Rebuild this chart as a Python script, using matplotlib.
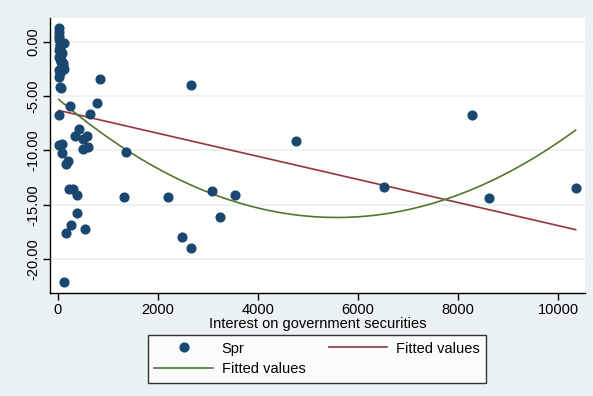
import numpy as np
import matplotlib
matplotlib.use("Agg")
import matplotlib.pyplot as plt

# interest on government securities vs. Spr
interest = [26, 20, 20, 126, 30, 40, 25, 50, 30, 60, 100, 110, 20, 70, 26, 60, 40,
            15, 45, 35, 80, 20, 55, 90, 35, 45, 65,
            840, 773, 240, 640, 26, 427, 340, 573, 493, 493, 607, 27, 87, 87, 1360,
            193, 160, 227, 307, 387, 1320, 387, 253, 160, 540, 120,
            2653, 2207, 3087, 3547, 3233, 2487, 2667, 4760, 6527, 8287, 8627, 10353]
spr = [1.23, 0.92, 0.22, -0.09, 0.0, -0.4, -0.8, -1.2, -1.6, -1.9, -2.0, -2.5, -2.6, -2.3, -3.2, -4.3, -4.15,
       0.5, -0.3, -0.7, -1.0, -1.4, -1.8, -2.2, -2.6, -2.9, -2.5,
       -3.43, -5.66, -5.9, -6.68, -6.74, -8.05, -8.67, -8.67, -8.92, -9.86, -9.65, -9.49, -9.43, -10.2, -10.17,
       -10.96, -11.24, -13.54, -13.54, -14.06, -14.27, -15.71, -16.88, -17.61, -17.24, -22.1,
       -4.01, -14.25, -13.75, -14.09, -16.08, -17.98, -18.99, -9.16, -13.36, -6.74, -14.39, -13.48]

xticks = [0, 2000, 4000, 6000, 8000, 10000]
yticks = [0, -5, -10, -15, -20]

navy = "#1A476F"
maroon = "#90353B"
green = "#55752F"
bg = "#EAF2F3"

x = np.array(interest, dtype=float)
y = np.array(spr, dtype=float)

# linear and quadratic fits over the range of x
xs = np.linspace(x.min(), x.max(), 200)
lin = np.polyval(np.polyfit(x, y, 1), xs)
quad = np.polyval(np.polyfit(x, y, 2), xs)

plt.rcParams["font.family"] = ["Liberation Sans", "DejaVu Sans"]

fig = plt.figure(figsize=(5.93, 3.96), dpi=100, facecolor=bg)
ax = fig.add_axes([50/593, 1 - 293/396, 535/593, 275/396])
ax.set_facecolor("white")

for t in yticks:
    ax.axhline(t, color=bg, lw=1.3, zorder=0)

pts, = ax.plot(x, y, "o", color=navy, ms=6.3, mec=navy, ls="none", label="Spr", zorder=3)
l1, = ax.plot(xs, lin, color=maroon, lw=1.2, label="Fitted values", zorder=2)
l2, = ax.plot(xs, quad, color=green, lw=1.2, label="Fitted values", zorder=2)

ax.set_xlim(-160, 10540)
ax.set_ylim(-23.1, 2.18)
ax.set_xticks(xticks)
ax.set_xticklabels([str(t) for t in xticks])
ax.set_yticks(yticks)
ax.set_yticklabels(["%.2f" % t for t in yticks], rotation=90, va="center")
ax.tick_params(labelsize=10.5, length=5, width=1, color="black", pad=2)

for s in ["top", "right"]:
    ax.spines[s].set_visible(False)
for s in ["left", "bottom"]:
    ax.spines[s].set_linewidth(1)

ax.set_xlabel("Interest on government securities", fontsize=10.5, labelpad=0)

leg = fig.legend([pts, l2, l1], ["Spr", "Fitted values", "Fitted values"],
                 ncol=2, loc="upper center", bbox_to_anchor=(317/593, 1 - 335/396),
                 fontsize=10.5, frameon=True, fancybox=False, edgecolor="black",
                 handlelength=4.0, handletextpad=0.6, columnspacing=1.6,
                 labelspacing=0.45, borderpad=0.45, borderaxespad=0, numpoints=1)
leg.get_frame().set_linewidth(1)

fig.savefig("out.png", dpi=100, facecolor=bg)
